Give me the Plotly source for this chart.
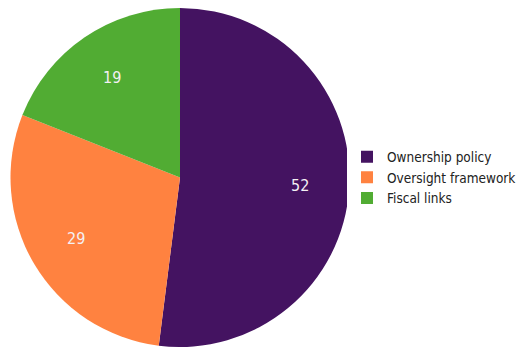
import math
import plotly.graph_objects as go

labels = ["Ownership policy", "Oversight framework", "Fiscal links"]
values = [52, 29, 19]
colors = ["#441361", "#FF8240", "#51AC33"]

# page body adds an 8px margin, so the figure covers the window minus 8px
W, H = 520, 339
FONT = "DejaVu Sans Condensed, Liberation Sans Narrow, sans-serif"
dx0, dx1 = 2.5 / W, 341.5 / W
dy0, dy1 = 0.0, 1.0

fig = go.Figure(go.Pie(
    labels=labels, values=values, sort=False, direction="clockwise", rotation=0,
    marker=dict(colors=colors, line=dict(width=0)),
    textinfo="none",
    domain=dict(x=[dx0, dx1], y=[dy0, dy1]),
    hoverinfo="label+value",
))

# value labels placed at ~0.71 of the radius along each slice's mid-angle
total = sum(values)
cx, cy = (dx0 + dx1) / 2 * W, (dy0 + dy1) / 2 * H
R = (dx1 - dx0) * W / 2
cum = 0
for v in values:
    mid = (cum + v / 2) / total * 2 * math.pi
    cum += v
    px = cx + 0.71 * R * math.sin(mid)
    py = cy + 0.71 * R * math.cos(mid)
    fig.add_annotation(x=px / W, y=py / H, xref="paper", yref="paper", text=str(v),
                       showarrow=False, xanchor="center", yanchor="middle",
                       font=dict(family=FONT, size=16, color="#F4F0F4"))

fig.update_layout(
    width=W, height=H, margin=dict(l=0, r=0, t=0, b=0, autoexpand=False),
    paper_bgcolor="white", plot_bgcolor="white",
    showlegend=True,
    legend=dict(x=339 / W, xanchor="left", y=0.5, yanchor="middle",
                font=dict(family=FONT, size=13.5, color="#222222"),
                itemwidth=30, tracegroupgap=0),
)
fig.write_html("out.html")
